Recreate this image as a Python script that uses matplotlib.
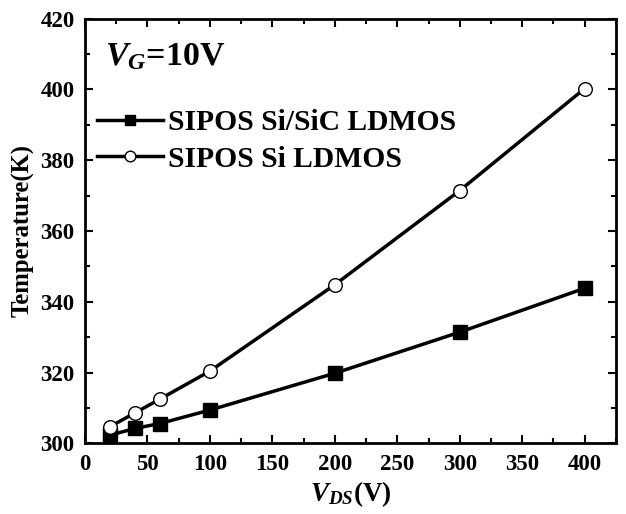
import matplotlib
matplotlib.use("Agg")
import matplotlib.pyplot as plt
from matplotlib.ticker import MultipleLocator

# drain voltage sweep and peak lattice temperature
vds = [20, 40, 60, 100, 200, 300, 400]
temp_sisic = [302.3, 304.2, 305.6, 309.4, 319.8, 331.4, 343.8]
temp_si = [304.7, 308.6, 312.5, 320.4, 344.8, 371.4, 400.2]

plt.rcParams['font.family'] = ['Liberation Serif', 'DejaVu Serif']
plt.rcParams['font.weight'] = 'bold'
plt.rcParams['mathtext.fontset'] = 'custom'
plt.rcParams['mathtext.rm'] = 'Liberation Serif:bold'
plt.rcParams['mathtext.it'] = 'Liberation Serif:bold:italic'
plt.rcParams['mathtext.bf'] = 'Liberation Serif:bold'

fig = plt.figure(figsize=(6.26, 5.14), dpi=100)
ax = fig.add_axes([0.1358, 0.1375, 0.848, 0.8265])

ax.plot(vds, temp_sisic, '-s', color='black', lw=2.5, ms=9.5,
        mfc='black', mec='black', label='SIPOS Si/SiC LDMOS')
ax.plot(vds, temp_si, '-o', color='black', lw=2.5, ms=9.8,
        mfc='white', mec='black', mew=1.0, label='SIPOS Si LDMOS')

ax.set_xlim(0, 425)
ax.set_ylim(300, 420)
ax.xaxis.set_major_locator(MultipleLocator(50))
ax.xaxis.set_minor_locator(MultipleLocator(25))
ax.yaxis.set_major_locator(MultipleLocator(20))
ax.yaxis.set_minor_locator(MultipleLocator(10))
ax.tick_params(which='both', direction='in', top=True, right=True, width=1.5)
ax.tick_params(which='major', length=6, labelsize=16.5)
ax.tick_params(axis='y', which='major', pad=7.5)
ax.tick_params(axis='x', which='major', pad=8)
ax.tick_params(which='minor', length=3.5)
for s in ax.spines.values():
    s.set_linewidth(2)

ax.set_xlabel(r'$V_{DS}$(V)', fontsize=19.5, fontweight='bold', labelpad=3)
ax.set_ylabel('Temperature(K)', fontsize=17.8, fontweight='bold', labelpad=4)

ax.text(0.038, 0.91, r'$V_G$=10V', transform=ax.transAxes, fontsize=24.5,
        fontweight='bold', va='center', ha='left')

ax.legend(loc='upper left', bbox_to_anchor=(0.0, 0.815), frameon=False,
          fontsize=21.3, handlelength=2.25, handletextpad=0.17, labelspacing=0.33,
          borderaxespad=0.0, markerscale=0.78)

fig.savefig('out.png', dpi=100)
